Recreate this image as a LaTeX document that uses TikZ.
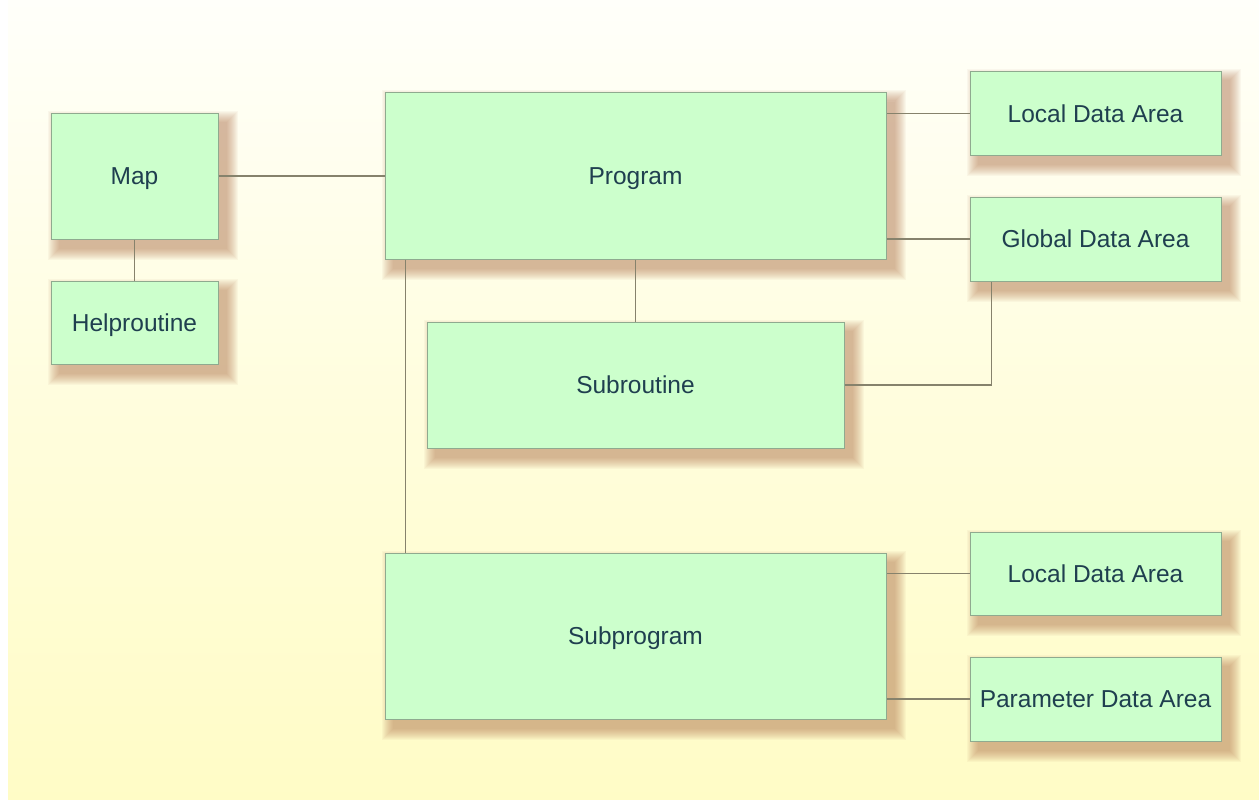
\documentclass[tikz,border=0pt]{standalone}
\usepackage{fontspec}
\setmainfont{Liberation Sans}
\definecolor{bgtop}{HTML}{FFFFFA}
\definecolor{bgbot}{HTML}{FFFCC6}
\definecolor{boxfill}{HTML}{CCFFCC}
\definecolor{boxline}{HTML}{8FAA8F}
\definecolor{conn}{HTML}{86826C}
\definecolor{txt}{HTML}{1F3F4F}
\definecolor{shadowc}{HTML}{B07048}
\pgfdeclarelayer{bg}
\pgfdeclarelayer{shadow}
\pgfsetlayers{bg,shadow,main}
\newcommand{\boxshadow}[1]{%
  \begin{pgfonlayer}{shadow}
  \foreach \r in {11,10,...,0}{
    \fill[shadowc, fill opacity=0.05]
      ([shift={({(8-\r)*1pt},{(-9-\r)*1pt})}]#1.south west) rectangle
      ([shift={({(8+\r)*1pt},{(-9+\r)*1pt})}]#1.north east);
  }
  \end{pgfonlayer}}
\begin{document}
\begin{tikzpicture}[x=1pt,y=-1pt,
  blk/.style={draw=boxline, line width=1pt, fill=boxfill, text=txt,
    inner sep=0pt, text depth=0pt, font=\fontsize{24.5}{29}\selectfont},
  link/.style={draw=conn, line width=1.1pt}]
\useasboundingbox (0,0) rectangle (1259,800);
\begin{pgfonlayer}{bg}
  \fill[white] (0,0) rectangle (1259,800);
  \shade[top color=bgtop, bottom color=bgbot, middle color=bgbot!55!bgtop] (8,0) rectangle (1259,800);
\end{pgfonlayer}

\node[blk, minimum width=167pt, minimum height=126pt] (map) at (134.5,176) {Map};
\node[blk, minimum width=167pt, minimum height=83pt] (help) at (134.5,322.5) {Helproutine};
\node[blk, minimum width=501pt, minimum height=166pt] (prog) at (635.5,176) {Program};
\node[blk, minimum width=251pt, minimum height=83pt] (lda1) at (1095.5,113.5) {Local Data Area};
\node[blk, minimum width=251pt, minimum height=84pt] (gda) at (1095.5,239) {Global Data Area};
\node[blk, minimum width=417pt, minimum height=126pt] (subr) at (635.5,385) {Subroutine};
\node[blk, minimum width=501pt, minimum height=166pt] (subp) at (635.5,636) {Subprogram};
\node[blk, minimum width=251pt, minimum height=83pt] (lda2) at (1095.5,573.5) {Local Data Area};
\node[blk, minimum width=251pt, minimum height=84pt] (pda) at (1095.5,699) {Parameter Data Area};

\foreach \n in {map,help,prog,lda1,gda,subr,subp,lda2,pda}{\boxshadow{\n}}

\draw[link] (map.east) -- (prog.west);
\draw[link] (map.south) -- (help.north);
\draw[link] (lda1.west) -- (lda1.west -| prog.east);
\draw[link] (gda.west) -- (gda.west -| prog.east);
\draw[link] (prog.south) -- (subr.north);
\draw[link] (subr.east) -| ([xshift=22pt]gda.south west);
\draw[link] ([xshift=21pt]prog.south west) -- ([xshift=21pt]subp.north west);
\draw[link] (lda2.west) -- (lda2.west -| subp.east);
\draw[link] (pda.west) -- (pda.west -| subp.east);
\end{tikzpicture}
\end{document}
